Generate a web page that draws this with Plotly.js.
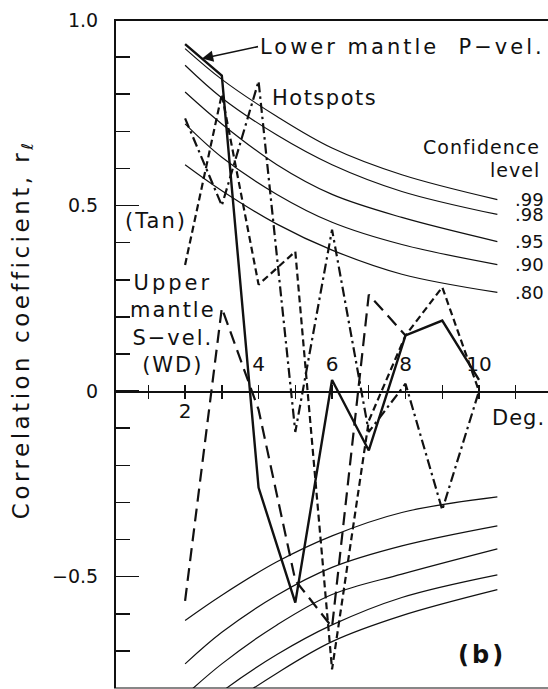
<!DOCTYPE html>
<html>
<head>
<meta charset="utf-8">
<script src="https://cdn.plot.ly/plotly-3.0.1.min.js"></script>
<style>
  html, body { margin: 0; padding: 0; background: #fff; }
  #chart { width: 548px; height: 689px; }
</style>
</head>
<body>
<div id="chart"></div>
<script>
// Spherical-harmonic degree and correlation coefficient per data set
const degrees = [2, 3, 4, 5, 6, 7, 8, 9, 10];
const lowerMantleP = [0.935, 0.85, -0.26, -0.57, 0.03, -0.16, 0.15, 0.19, 0.03];
const hotspots = [0.735, 0.50, 0.835, -0.11, 0.435, -0.11, 0.02, -0.32, 0.0];
const tanModel = [0.34, 0.80, 0.287, 0.376, -0.75, -0.08, 0.15, 0.28, 0.0];
const wdDegrees = [2, 3, 4, 5, 6, 7, 8];
const upperMantleS = [-0.565, 0.224, -0.05, -0.51, -0.636, 0.26, 0.15];

// Confidence-level curves (positive and negative branches)
const confDegrees = [2, 3, 4.5, 6, 7.9, 10.5];
const confLabels = ['.99', '.98', '.95', '.90', '.80'];
const conf99 = [0.923, 0.84, 0.74, 0.655, 0.583, 0.516];
const conf98 = [0.878, 0.79, 0.69, 0.61, 0.538, 0.476];
const conf95 = [0.806, 0.72, 0.61, 0.53, 0.468, 0.403];
const conf90 = [0.72, 0.63, 0.53, 0.455, 0.395, 0.341];
const conf80 = [0.61, 0.54, 0.45, 0.38, 0.315, 0.266];
const confNeg99 = [-0.94, -0.86, -0.76, -0.675, -0.605, -0.535];
const confNeg98 = [-0.895, -0.81, -0.71, -0.63, -0.556, -0.495];
const confNeg95 = [-0.82, -0.735, -0.63, -0.548, -0.493, -0.425];
const confNeg90 = [-0.735, -0.65, -0.55, -0.475, -0.417, -0.363];
const confNeg80 = [-0.618, -0.55, -0.46, -0.39, -0.327, -0.285];

// Axis ticks
const xTickVals = [1, 2, 3, 4, 5, 6, 7, 8, 9, 10, 11];
const xTickTextAbove = ['', '', '', '4', '', '6', '', '8', '', '10', ''];
const xTickTextBelow = ['', '2', '', '', '', '', '', '', '', '', ''];
const yTickVals = [-0.5, 0, 0.5, 1.0];
const yTickText = ['\u22120.5', '0', '0.5', '1.0'];

const INK = '#111';
const FONT = 'DejaVu Sans, Verdana, sans-serif';
const yMin = -0.80, yMax = 1.0;
const xRange = [0.065, 11.878];
const zeroPos = (0 - yMin) / (yMax - yMin);

const spaced = (s, px) => `<span style="letter-spacing:${px}px">${s}</span>`;

const traces = [];
const upperSets = [conf99, conf98, conf95, conf90, conf80];
const lowerSets = [confNeg99, confNeg98, confNeg95, confNeg90, confNeg80];
upperSets.concat(lowerSets).forEach(vals => {
  traces.push({
    type: 'scatter', mode: 'lines', x: confDegrees, y: vals,
    xaxis: 'x2', yaxis: 'y',
    line: { color: INK, width: 1.2, shape: 'spline', smoothing: 1 },
    hoverinfo: 'skip', showlegend: false
  });
});

traces.push({
  type: 'scatter', mode: 'lines', name: 'Upper mantle S-vel. (WD)',
  x: wdDegrees, y: upperMantleS,
  line: { color: INK, width: 2.2, dash: '13px,7px' }
});
traces.push({
  type: 'scatter', mode: 'lines', name: '(Tan)',
  x: degrees, y: tanModel,
  line: { color: INK, width: 2.2, dash: '7px,4px' }
});
traces.push({
  type: 'scatter', mode: 'lines', name: 'Hotspots',
  x: degrees, y: hotspots,
  line: { color: INK, width: 2.2, dash: '10px,4px,2.5px,4px' }
});
traces.push({
  type: 'scatter', mode: 'lines', name: 'Lower mantle P-vel.',
  x: degrees, y: lowerMantleP,
  line: { color: INK, width: 2.4 }
});

const ann = (o) => Object.assign({ showarrow: false, xref: 'x', yref: 'y',
  font: { family: FONT, size: 21, color: INK } }, o);

const annotations = [
  ann({ x: 2.46, y: 0.896, text: spaced('Lower mantle\u00a0 P\u2212vel.', 3),
        showarrow: true, arrowhead: 2, arrowsize: 1.4, arrowwidth: 1.6, arrowcolor: INK,
        ax: 56, ay: -12, xanchor: 'left', yanchor: 'middle' }),
  ann({ x: 4.31, y: 0.79, text: spaced('Hotspots', 1.5), xanchor: 'left', yanchor: 'middle' }),
  ann({ x: 1.21, y: 0.458, text: spaced('(Tan)', 2), xanchor: 'center', yanchor: 'middle' }),
  ann({ x: 1.67, y: 0.18, align: 'center', xanchor: 'center', yanchor: 'middle',
        text: [spaced('Upper', 3), spaced('mantle', 2), spaced('S\u2212vel.', 2), spaced('(WD)', 2)].join('<br>') }),
  ann({ x: 10.3, y: -0.073, text: spaced('Deg.', 1), xanchor: 'left', yanchor: 'middle' }),
  ann({ x: 11.72, y: 0.658, text: spaced('Confidence', 1), xanchor: 'right', yanchor: 'middle',
        font: { family: FONT, size: 19, color: INK } }),
  ann({ x: 11.72, y: 0.596, text: spaced('level', 1), xanchor: 'right', yanchor: 'middle',
        font: { family: FONT, size: 19, color: INK } }),
  ann({ x: 10.08, y: -0.712, text: spaced('(b)', 3), xanchor: 'center', yanchor: 'middle',
        font: { family: FONT, size: 24, color: INK, weight: 'bold' } }),
  { xref: 'paper', yref: 'paper', x: -0.21, y: 0.534, textangle: -90, showarrow: false,
    xanchor: 'center', yanchor: 'middle',
    text: spaced('Correlation coefficient, r', 3.5) + '<sub>\u2113</sub>',
    font: { family: FONT, size: 23, color: INK } }
];
upperSets.forEach((vals, i) => {
  annotations.push(ann({ x: 10.93, y: vals[vals.length - 1], text: confLabels[i],
    xanchor: 'left', yanchor: 'middle', font: { family: FONT, size: 18, color: INK } }));
});

const layout = {
  width: 548, height: 689,
  margin: { l: 114, r: 0, t: 20, b: 1, pad: 0 },
  paper_bgcolor: '#fff', plot_bgcolor: '#fff',
  showlegend: false,
  font: { family: FONT, size: 19, color: INK },
  // degree axis drawn through r = 0: labels below on one side, above on the other
  xaxis: {
    range: xRange, side: 'bottom', anchor: 'free', position: zeroPos,
    showline: true, linecolor: INK, linewidth: 1.8,
    ticks: 'outside', ticklen: 6, tickwidth: 1.4, tickcolor: INK,
    tickmode: 'array', tickvals: xTickVals, ticktext: xTickTextBelow,
    ticklabelstandoff: -5,
    showgrid: false, zeroline: false, fixedrange: true,
    tickfont: { family: FONT, size: 20, color: INK }
  },
  xaxis2: {
    range: xRange, overlaying: 'x', side: 'top', anchor: 'free', position: zeroPos,
    showline: false, ticks: 'outside', ticklen: 6, tickwidth: 1.4, tickcolor: INK,
    tickmode: 'array', tickvals: xTickVals, ticktext: xTickTextAbove,
    ticklabelstandoff: 6,
    showgrid: false, zeroline: false, fixedrange: true,
    tickfont: { family: FONT, size: 20, color: INK }
  },
  yaxis: {
    range: [yMin, yMax], anchor: 'free', position: 0,
    showline: true, linecolor: INK, linewidth: 1.8,
    ticks: 'inside', ticklen: 23, tickwidth: 1.6, tickcolor: INK,
    tickmode: 'array', tickvals: yTickVals, ticktext: yTickText,
    ticklabelstandoff: 12,
    minor: { ticks: 'inside', ticklen: 14, tickwidth: 1.6, tickcolor: INK, tickmode: 'linear', tick0: 0, dtick: 0.1, showgrid: false },
    showgrid: false, zeroline: false, fixedrange: true,
    tickfont: { family: FONT, size: 19, color: INK }
  },
  shapes: [
    { type: 'line', xref: 'paper', yref: 'paper', x0: 0, x1: 1, y0: 1, y1: 1, line: { color: INK, width: 1.8 } },
    { type: 'line', xref: 'paper', yref: 'paper', x0: 0, x1: 1, y0: 0, y1: 0, line: { color: INK, width: 1.2 } }
  ],
  annotations: annotations
};

Plotly.newPlot('chart', traces, layout, { staticPlot: true, displayModeBar: false });
</script>
</body>
</html>
